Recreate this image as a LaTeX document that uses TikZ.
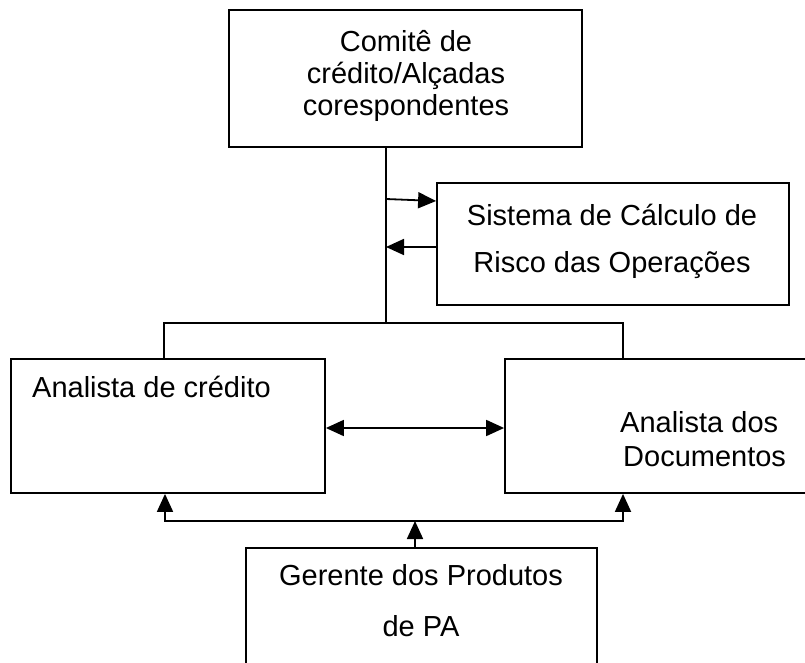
\documentclass[tikz,border=0pt]{standalone}
\usepackage{fontspec}
\setmainfont{Liberation Sans}
\usetikzlibrary{arrows.meta}
\begin{document}
\begin{tikzpicture}[x=1pt,y=-1pt,
  box/.style={draw=black, line width=1.8pt, fill=none, inner sep=0pt},
  txt/.style={inner sep=0pt, font=\fontsize{29}{32}\selectfont},
  wire/.style={line width=1.8pt},
  tip/.tip={Triangle[length=18pt,width=16pt]},
  arr/.style={wire, -tip},
  dbl/.style={wire, tip-tip}]
\useasboundingbox (0,0) rectangle (805,663);

% boxes
\node[box, minimum width=353pt, minimum height=137pt] (comite) at (405.5,78.5) {};
\node[box, minimum width=352pt, minimum height=122pt] (sistema) at (613,244) {};
\node[box, minimum width=314pt, minimum height=134pt] (credito) at (168,426) {};
\node[box, minimum width=315pt, minimum height=134pt] (docs) at (662.5,426) {};
\node[box, minimum width=351pt, minimum height=142pt] (gerente) at (421.5,619) {};

% labels
\node[txt, anchor=base] (c1) at (406,52) {Comitê de};
\node[txt, anchor=base] (c2) at (406,84) {crédito/Alçadas};
\node[txt, anchor=base] (c3) at (406,116) {corespondentes};
\node[txt, anchor=base] (s1) at (612,225) {Sistema de Cálculo de};
\node[txt, anchor=base] (s2) at (612,272) {Risco das Operações};
\node[txt, anchor=base west] (a1) at (32,397) {Analista de crédito};
\node[txt, anchor=base west] (d1) at (620,432) {Analista dos};
\node[txt, anchor=base west] (d2) at (623,466) {Documentos};
\node[txt, anchor=base] (g1) at (421,585) {Gerente dos Produtos};
\node[txt, anchor=base] (g2) at (421,636) {de PA};

% trunk from the committee down to the analysts
\coordinate (bus) at (386,323);
\coordinate (busL) at (164,323);
\coordinate (busR) at (623,323);
\draw[wire] (comite.south -| bus) -- (bus);
\draw[wire, line join=miter] (credito.north -| busL) -- (busL) -- (busR) -- (docs.north -| busR);

% exchange with the risk system
\coordinate (out) at (386,199);
\coordinate (back) at (386,247);
\draw[arr] (out) -- ([yshift=-2pt]sistema.west |- out);
\draw[arr] (sistema.west |- back) -- (back);

% between the two analysts
\draw[dbl] ([yshift=-2pt]credito.east) -- ([yshift=-2pt]docs.west);

% from the product manager up to both analysts
\coordinate (up) at (415,521);
\coordinate (bL) at (165,521);
\coordinate (bR) at (623,521);
\draw[arr] (gerente.north -| up) -- (up);
\draw[arr, line join=miter] (bR) -- (bL) -- (credito.south -| bL);
\draw[arr, line join=miter] (bL) -- (bR) -- (docs.south -| bR);
\end{tikzpicture}
\end{document}
